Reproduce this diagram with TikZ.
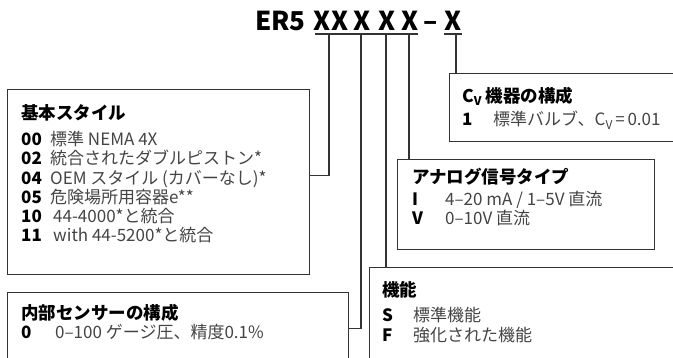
\documentclass[tikz,border=0pt]{standalone}
\usepackage{fontspec}
\setmainfont{Noto Sans CJK JP}
\definecolor{ln}{HTML}{333333}
\definecolor{desc}{HTML}{444444}
\newcommand\myCv{C\raisebox{-3.5pt}{\fontsize{12}{12}\selectfont V}}
\begin{document}
\begin{tikzpicture}[x=1pt,y=-1pt,
  box/.style={draw=ln, line width=1.1pt, inner sep=0pt, anchor=north west},
  conn/.style={draw=ln, line width=1.1pt},
  head/.style={anchor=base west, inner sep=0pt, font=\fontsize{17.5}{20}\selectfont\bfseries},
  num/.style={anchor=base west, inner sep=0pt, font=\fontsize{17}{20}\selectfont\bfseries},
  txt/.style={anchor=base west, inner sep=0pt, text=desc, font=\fontsize{17}{20}\selectfont},
  code/.style={anchor=base, inner sep=0pt, font=\fontsize{26}{30}\selectfont\bfseries}]
\useasboundingbox (0,0) rectangle (673,358);
\clip (0,0) rectangle (673,358);

% title
\node[code, anchor=base east] (er) at (306,31) {ER5};
\node[code] (c1) at (331,31) {XX};
\node[code] (c2) at (362,31) {X};
\node[code] (c3) at (387,31) {X};
\node[code] (c4) at (410,31) {X};
\node[code] (dash) at (431,31) {–};
\node[code] (c5) at (453,31) {X};
\coordinate (ulA) at (315,34);
\coordinate (ulB) at (418,34);
\coordinate (ulC) at (444,34);
\coordinate (ulD) at (462,34);
\draw[conn] (ulA) -- (ulB);
\draw[conn] (ulC) -- (ulD);
\coordinate (u1) at (329,34);
\coordinate (u2) at (361,34);
\coordinate (u3) at (386,34);
\coordinate (u4) at (409,34);
\coordinate (u5) at (456,34);

% boxes
\node[box, minimum width=302pt, minimum height=185pt] (b1) at (7,89) {};
\node[box, minimum width=341pt, minimum height=72pt] (b2) at (7,292) {};
\node[box, minimum width=340pt, minimum height=140pt] (b3) at (369,267) {};
\node[box, minimum width=257pt, minimum height=90pt] (b4) at (397,159) {};
\node[box, minimum width=260pt, minimum height=68pt] (b5) at (449,73) {};

% connectors
\draw[conn] (u1) |- ([yshift=6.5pt]b1.east);
\draw[conn] (u2) |- (b2.east);
\draw[conn] (u3) -- (u3 |- b3.north);
\draw[conn] (u4) -- (u4 |- b4.north);
\draw[conn] (u5) -- (u5 |- b5.north);

% box 1
\node[head] (h1) at (21,120) {基本スタイル};
\node[num] (n1a) at (21,146) {00};
\node[txt] (t1a) at (50,146) {標準 NEMA 4X};
\node[num] (n1b) at (21,165) {02};
\node[txt] (t1b) at (50,165) {統合されたダブルピストン*};
\node[num] (n1c) at (21,184.5) {04};
\node[txt] (t1c) at (50,184.5) {OEM スタイル (カバーなし)*};
\node[num] (n1d) at (21,204) {05};
\node[txt] (t1d) at (50,204) {危険場所用容器e**};
\node[num] (n1e) at (21,223) {10};
\node[txt] (t1e) at (53,223) {44-4000*と統合};
\node[num] (n1f) at (21,242) {11};
\node[txt] (t1f) at (53,242) {with 44-5200*と統合};

% box 2
\node[head] (h2) at (21,319.5) {内部センサーの構成};
\node[num] (n2a) at (21,339) {0};
\node[txt] (t2a) at (55,339) {0–100 ゲージ圧、精度0.1\%};

% box 3
\node[head] (h3) at (382,296.5) {機能};
\node[num] (n3a) at (382,322) {S};
\node[txt] (t3a) at (413,322) {標準機能};
\node[num] (n3b) at (382,342) {F};
\node[txt] (t3b) at (413,342) {強化された機能};

% box 4
\node[head] (h4) at (412,183.5) {アナログ信号タイプ};
\node[num] (n4a) at (412,206) {I};
\node[txt] (t4a) at (445,206) {4–20 mA / 1–5V 直流};
\node[num] (n4b) at (412,225) {V};
\node[txt] (t4b) at (445,225) {0–10V 直流};

% box 5
\node[head] (h5) at (462,102.5) {\myCv\ 機器の構成};
\node[num] (n5a) at (462,126) {1};
\node[txt] (t5a) at (493,126) {標準バルブ、\myCv\,=\,0.01};
\end{tikzpicture}
\end{document}
